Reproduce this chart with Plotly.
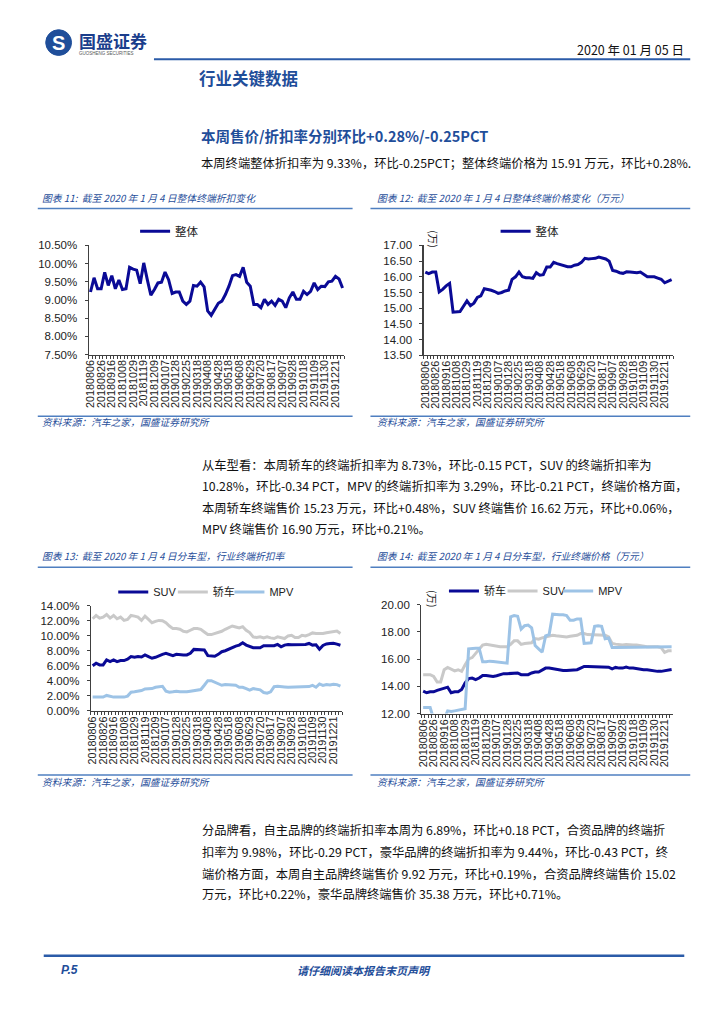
import plotly.graph_objects as go

W, H = 724, 1024

# ---------------- data ----------------
dates = [
    "20180806", "20180812", "20180819", "20180826", "20180902", "20180909",
    "20180916", "20180923", "20181001", "20181008", "20181015", "20181022",
    "20181029", "20181105", "20181112", "20181119", "20181126", "20181202",
    "20181209", "20181216", "20181223", "20190107", "20190114", "20190121",
    "20190128", "20190204", "20190218", "20190225", "20190304", "20190311",
    "20190318", "20190325", "20190401", "20190408", "20190414", "20190421",
    "20190428", "20190505", "20190512", "20190518", "20190525", "20190601",
    "20190608", "20190615", "20190622", "20190629", "20190706", "20190713",
    "20190720", "20190727", "20190803", "20190817", "20190824", "20190831",
    "20190907", "20190914", "20190921", "20190928", "20191005", "20191012",
    "20191018", "20191026", "20191102", "20191109", "20191116", "20191123",
    "20191130", "20191207", "20191214", "20191221", "20191228", "20200104",
]

overall_discount = [
    9.22, 9.61, 9.31, 9.31, 9.76, 9.40, 9.67, 9.31, 9.55, 9.29, 9.31, 9.90,
    9.85, 9.82, 9.45, 10.02, 9.56, 9.13, 9.29, 9.47, 9.49, 9.77, 9.56, 9.18,
    9.22, 9.22, 8.97, 8.88, 8.97, 9.40, 9.38, 9.49, 9.36, 8.70, 8.58, 8.75,
    8.91, 8.97, 9.15, 9.38, 9.67, 9.70, 9.65, 9.90, 9.49, 9.38, 8.88, 8.88,
    8.79, 9.02, 8.88, 8.97, 8.85, 9.02, 8.97, 8.79, 9.06, 9.22, 9.02, 9.02,
    9.24, 9.15, 9.24, 9.47, 9.29, 9.38, 9.37, 9.50, 9.52, 9.65, 9.58, 9.33,
]

overall_price = [
    16.15, 16.10, 16.15, 16.15, 15.52, 15.60, 15.71, 15.79, 14.87, 14.87, 14.89, 15.06,
    15.23, 15.08, 15.16, 15.34, 15.39, 15.62, 15.60, 15.57, 15.53, 15.47, 15.50, 15.55,
    15.57, 15.92, 16.00, 16.15, 16.00, 15.97, 15.97, 15.95, 16.13, 16.05, 16.07, 16.31,
    16.31, 16.46, 16.42, 16.39, 16.36, 16.32, 16.32, 16.37, 16.39, 16.46, 16.59, 16.57,
    16.58, 16.59, 16.63, 16.60, 16.57, 16.50, 16.20, 16.18, 16.13, 16.11, 16.16, 16.15,
    16.13, 16.13, 16.15, 16.07, 16.00, 16.00, 16.00, 15.96, 15.92, 15.81, 15.87, 15.91,
]

# chart 13 (legend labels as printed in the figure)
disc_suv = [
    6.00, 6.34, 6.12, 6.12, 6.78, 6.56, 6.78, 6.56, 6.69, 6.69, 6.87, 7.22,
    7.13, 7.22, 7.17, 7.44, 7.22, 7.00, 7.13, 7.35, 7.52, 7.66, 7.52, 7.35,
    7.52, 7.44, 7.44, 7.44, 7.66, 8.18, 8.18, 8.18, 8.09, 7.35, 7.26, 7.26,
    7.52, 7.87, 8.00, 8.22, 8.40, 8.62, 8.75, 9.05, 8.75, 8.53, 8.40, 8.40,
    8.40, 8.66, 8.66, 8.66, 8.66, 8.84, 8.53, 8.75, 8.84, 8.79, 8.79, 8.84,
    8.75, 8.84, 8.97, 8.75, 8.80, 8.20, 8.70, 8.90, 8.95, 9.00, 8.88, 8.73,
]
disc_sedan = [
    12.25, 12.69, 12.34, 12.47, 12.82, 12.34, 12.69, 12.25, 12.47, 12.03, 12.16, 12.69,
    12.60, 12.47, 12.03, 12.60, 12.16, 11.72, 11.90, 12.03, 12.00, 11.72, 11.29, 10.94,
    10.94, 10.85, 10.59, 10.50, 10.72, 10.94, 10.94, 10.85, 10.50, 10.15, 10.15, 10.28,
    10.50, 10.59, 10.85, 11.07, 11.29, 11.16, 11.02, 11.20, 10.72, 10.41, 9.84, 9.76,
    9.84, 9.71, 9.84, 9.71, 9.62, 9.84, 9.76, 9.62, 9.97, 10.06, 9.76, 9.76,
    10.06, 9.97, 10.15, 10.37, 10.28, 10.28, 10.30, 10.40, 10.50, 10.60, 10.62, 10.28,
]
disc_mpv = [
    1.84, 1.84, 1.84, 1.84, 2.06, 1.92, 1.84, 1.84, 1.84, 1.84, 1.97, 2.49,
    2.54, 2.62, 2.71, 2.93, 2.97, 2.97, 3.15, 3.24, 3.28, 2.62, 2.49, 2.54,
    2.62, 2.54, 2.49, 2.54, 2.62, 2.71, 2.80, 2.84, 3.41, 4.02, 4.02, 3.85,
    3.59, 3.41, 3.50, 3.50, 3.50, 3.41, 3.15, 3.15, 2.97, 2.76, 2.97, 2.84,
    2.80, 2.45, 2.36, 2.54, 3.24, 3.28, 3.28, 3.19, 3.15, 3.15, 3.15, 3.15,
    3.24, 3.15, 3.24, 3.41, 3.15, 3.59, 3.40, 3.50, 3.45, 3.55, 3.50, 3.29,
]

# chart 14
price_sedan = [
    13.65, 13.53, 13.60, 13.60, 13.70, 13.77, 13.89, 13.94, 13.53, 13.60, 13.60, 13.77,
    14.25, 14.57, 14.61, 14.49, 14.61, 14.80, 14.80, 14.78, 14.73, 14.78, 14.86, 14.93,
    14.93, 14.93, 14.98, 14.98, 14.86, 14.86, 14.86, 14.98, 15.05, 15.05, 15.22, 15.34,
    15.34, 15.29, 15.27, 15.22, 15.17, 15.17, 15.17, 15.17, 15.22, 15.34, 15.46, 15.46,
    15.46, 15.46, 15.46, 15.46, 15.46, 15.41, 15.29, 15.39, 15.34, 15.34, 15.41, 15.34,
    15.34, 15.29, 15.29, 15.22, 15.22, 15.17, 15.14, 15.10, 15.10, 15.14, 15.16, 15.23,
]
price_suv = [
    14.86, 14.86, 14.86, 14.73, 14.32, 14.32, 15.22, 15.39, 15.29, 15.14, 15.22, 15.10,
    15.58, 16.01, 16.11, 16.43, 16.79, 17.03, 17.08, 17.03, 16.98, 16.98, 16.91, 16.91,
    16.91, 17.08, 17.34, 17.34, 17.08, 17.15, 17.15, 17.20, 17.51, 17.46, 17.56, 17.63,
    17.71, 17.75, 17.71, 17.68, 17.63, 17.63, 17.68, 17.71, 17.75, 17.87, 17.87, 17.80,
    17.80, 17.80, 17.80, 17.75, 17.75, 17.63, 17.15, 17.10, 17.08, 17.03, 17.08, 17.03,
    17.03, 17.03, 16.98, 16.91, 16.91, 16.91, 16.91, 16.91, 16.84, 16.50, 16.61, 16.62,
]
price_mpv = [
    12.44, 12.44, 12.44, 11.60, 11.60, 11.60, 11.60, 12.20, 12.15, 12.20, 12.25, 12.30,
    12.35, 16.75, 16.80, 16.80, 16.80, 15.80, 15.80, 15.85, 15.82, 15.80, 15.75, 15.72,
    15.70, 19.10, 19.20, 19.15, 18.20, 18.45, 18.50, 18.30, 17.00, 16.75, 16.50, 17.70,
    17.80, 19.30, 19.25, 19.25, 19.25, 19.20, 18.85, 18.85, 18.95, 18.95, 17.15, 17.15,
    17.20, 18.40, 18.45, 18.40, 17.50, 17.55, 16.85, 16.85, 16.85, 16.85, 16.85, 16.85,
    16.85, 16.85, 16.85, 16.85, 16.85, 16.85, 16.85, 16.85, 16.85, 16.86, 16.86, 16.90,
]

tick_text = [d if i % 3 == 0 else "" for i, d in enumerate(dates)]

# ---------------- helpers ----------------
def px(x):
    return x / W

def py(y):
    return 1 - y / H

DARK = "#0A0A96"
GRAY = "#C9C9C9"
LIGHT = "#9DC3E6"
BLUE_TXT = "#1F4E9A"
CJK = "Noto Sans CJK SC"
LAT = "Liberation Sans"

fig = go.Figure()

def add(x, y, name, color, ax, legend, width=3):
    fig.add_trace(go.Scatter(
        x=x, y=y, name=name, mode="lines",
        line=dict(color=color, width=width),
        xaxis="x" + ("" if ax == 1 else str(ax)),
        yaxis="y" + ("" if ax == 1 else str(ax)),
        legend=legend, hoverinfo="skip",
    ))

add(dates, overall_discount, "整体", DARK, 1, "legend")
add(dates, overall_price, "整体", DARK, 2, "legend2")
add(dates, disc_suv, "SUV", DARK, 3, "legend3")
add(dates, disc_sedan, "轿车", GRAY, 3, "legend4")
add(dates, disc_mpv, "MPV", LIGHT, 3, "legend5")
add(dates, price_sedan, "轿车", DARK, 4, "legend6")
add(dates, price_suv, "SUV", GRAY, 4, "legend7")
add(dates, price_mpv, "MPV", LIGHT, 4, "legend8")

def xaxis(x0, x1):
    return dict(
        domain=[px(x0), px(x1)], type="category",
        categoryorder="array", categoryarray=dates,
        range=[-0.5, len(dates) - 0.5],
        tickmode="array", tickvals=dates, ticktext=tick_text,
        tickson="boundaries", ticks="outside", ticklen=3, tickcolor="#404040",
        tickangle=-90, tickfont=dict(family=LAT, size=10.8, color="#222"),
        showline=True, linecolor="#404040", linewidth=1.2,
        showgrid=False, zeroline=False, fixedrange=True,
    )

def yaxis(y0, y1, r, dt, fmt, suffix=""):
    return dict(
        domain=[py(y1), py(y0)], range=r, tick0=r[0], dtick=dt,
        tickformat=fmt, ticksuffix=suffix,
        ticks="outside", ticklen=3, tickcolor="#404040",
        ticklabelstandoff=5,
        tickfont=dict(family=LAT, size=11.5, color="#222"),
        showline=True, linecolor="#404040", linewidth=1.2,
        showgrid=False, zeroline=False, fixedrange=True,
    )

layout = dict(
    width=W, height=H, margin=dict(l=0, r=0, t=0, b=0),
    paper_bgcolor="white", plot_bgcolor="white", showlegend=True,
)

ax1 = xaxis(84.3, 341.7); ax1["anchor"] = "y"
ax2 = xaxis(421.5, 673.0); ax2["anchor"] = "y2"
ax3 = xaxis(86.5, 339.5); ax3["anchor"] = "y3"
ax4 = xaxis(419.3, 673.0); ax4["anchor"] = "y4"
ay1 = yaxis(242.3, 352.7, [7.5, 10.5], 0.5, ".2f", "%"); ay1["anchor"] = "x"
ay2 = yaxis(242.3, 353.3, [13.5, 17.0], 0.5, ".2f"); ay2["anchor"] = "x2"
ay3 = yaxis(606.7, 713.3, [0, 14], 2, ".2f", "%"); ay3["anchor"] = "x3"
ay4 = yaxis(605.7, 716.0, [12, 20], 2, ".2f"); ay4["anchor"] = "x4"

layout.update(xaxis=ax1, xaxis2=ax2, xaxis3=ax3, xaxis4=ax4,
              yaxis=ay1, yaxis2=ay2, yaxis3=ay3, yaxis4=ay4)

def leg(x, y, size=11.5):
    return dict(x=px(x), y=py(y), xanchor="left", yanchor="middle",
                orientation="h", bgcolor="rgba(0,0,0,0)", borderwidth=0,
                font=dict(family=LAT + ", " + CJK, size=size, color="#222"),
                itemclick=False, itemdoubleclick=False, tracegroupgap=0)

layout.update(
    legend=leg(131, 228),
    legend2=leg(494, 228),
    legend3=leg(109, 593, 11),
    legend4=leg(169, 593, 11),
    legend5=leg(226, 593, 11),
    legend6=leg(442, 592, 11),
    legend7=leg(501, 592, 11),
    legend8=leg(557, 592, 11),
)

ann = []
shapes = []

def text(x, y, s, size, color="#111", family=CJK, anchor="left", italic=False, bold=False, angle=0):
    if bold:
        s = "<b>" + s + "</b>"
    if italic:
        s = "<i>" + s + "</i>"
    ann.append(dict(x=px(x), y=py(y), xref="paper", yref="paper", text=s,
                    showarrow=False, xanchor=anchor, yanchor="middle",
                    textangle=angle,
                    font=dict(family=family, size=size, color=color)))

def hline(x0, x1, y, color, w):
    shapes.append(dict(type="line", xref="paper", yref="paper",
                       x0=px(x0), x1=px(x1), y0=py(y), y1=py(y),
                       line=dict(color=color, width=w)))

# header
shapes.append(dict(type="circle", xref="paper", yref="paper",
                   x0=px(41), x1=px(67), y0=py(50), y1=py(24),
                   fillcolor="#1F4E9A", line=dict(color="#1F4E9A", width=1)))
text(54, 37, "S", 20, "white", LAT, "center", bold=True)
text(72, 35, "国盛证券", 17, "#1B3E8C", CJK, bold=True)
text(72, 48, "GUOSHENG SECURITIES", 4.5, "#555", LAT)
text(686, 44, "2020 年 01 月 05 日", 12.5, "#111", CJK, "right")
hline(150, 690, 54, "#2B5BA8", 2)
text(193, 73, "行业关键数据", 16.5, BLUE_TXT, CJK, bold=True)

text(195, 131, "本周售价/折扣率分别环比+0.28%/-0.25PCT", 14.5, BLUE_TXT, CJK, bold=True)
text(195, 159, "本周终端整体折扣率为 9.33%，环比-0.25PCT；整体终端价格为 15.91 万元，环比+0.28%.", 12.3, "#111")

# captions & source lines
cap_col = "#1F4E9A"
text(35, 194, "图表 11:  截至 2020 年 1 月 4 日整体终端折扣变化", 9.8, cap_col, italic=True)
text(373, 194, "图表 12:  截至 2020 年 1 月 4 日整体终端价格变化（万元）", 9.8, cap_col, italic=True)
hline(33, 350, 205, "#4F7FC0", 1.5)
hline(368, 690, 205, "#4F7FC0", 1.5)
hline(33, 350, 415, "#4F7FC0", 1.5)
hline(368, 690, 415, "#4F7FC0", 1.5)
text(35, 421, "资料来源：汽车之家，国盛证券研究所", 9.8, cap_col, italic=True)
text(373, 421, "资料来源：汽车之家，国盛证券研究所", 9.8, cap_col, italic=True)

text(35, 557, "图表 13:  截至 2020 年 1 月 4 日分车型，行业终端折扣率", 9.8, cap_col, italic=True)
text(373, 557, "图表 14:  截至 2020 年 1 月 4 日分车型，行业终端价格（万元）", 9.8, cap_col, italic=True)
hline(33, 350, 568, "#4F7FC0", 1.5)
hline(368, 690, 568, "#4F7FC0", 1.5)
hline(33, 350, 778, "#4F7FC0", 1.5)
hline(368, 690, 778, "#4F7FC0", 1.5)
text(35, 785, "资料来源：汽车之家，国盛证券研究所", 9.8, cap_col, italic=True)
text(373, 785, "资料来源：汽车之家，国盛证券研究所", 9.8, cap_col, italic=True)

# unit labels
text(432, 236, "(万)", 10.5, "#222", CJK, "center", angle=90)
text(430, 600, "(万)", 10.5, "#222", CJK, "center", angle=90)

# paragraphs
p2 = [
    "从车型看：本周轿车的终端折扣率为 8.73%，环比-0.15 PCT，SUV 的终端折扣率为",
    "10.28%，环比-0.34 PCT，MPV 的终端折扣率为 3.29%，环比-0.21 PCT，终端价格方面，",
    "本周轿车终端售价 15.23 万元，环比+0.48%，SUV 终端售价 16.62 万元，环比+0.06%，",
    "MPV 终端售价 16.90 万元，环比+0.21%。",
]
for s, y in zip(p2, [464, 486, 508, 529]):
    text(196, y, s, 12.3)

p3 = [
    "分品牌看，自主品牌的终端折扣率本周为 6.89%，环比+0.18 PCT，合资品牌的终端折",
    "扣率为 9.98%，环比-0.29 PCT，豪华品牌的终端折扣率为 9.44%，环比-0.43 PCT，终",
    "端价格方面，本周自主品牌终端售价 9.92 万元，环比+0.19%，合资品牌终端售价 15.02",
    "万元，环比+0.22%，豪华品牌终端售价 35.38 万元，环比+0.71%。",
]
for s, y in zip(p3, [834, 856, 878, 899]):
    text(196, y, s, 12.3)

# footer
hline(39, 684, 961, "#2B5BA8", 2.5)
text(54, 975, "P.5", 12, BLUE_TXT, LAT, bold=True, italic=True)
text(361, 975, "请仔细阅读本报告末页声明", 11, BLUE_TXT, CJK, "center", bold=True, italic=True)

layout["annotations"] = ann
layout["shapes"] = shapes
fig.update_layout(**layout)

fig.write_html("out.html", config={"displayModeBar": False, "staticPlot": True},
               post_script="document.body.style.margin='0';")
